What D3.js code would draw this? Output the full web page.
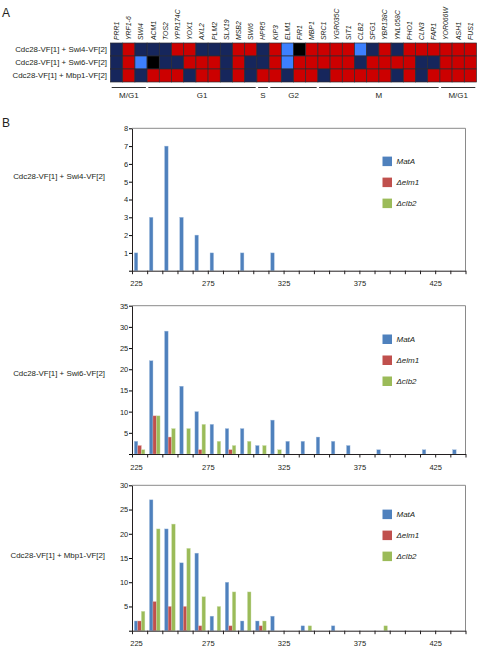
<!DOCTYPE html>
<html><head><meta charset="utf-8">
<script src="https://cdnjs.cloudflare.com/ajax/libs/d3/7.8.5/d3.min.js"></script>
<style>
body{margin:0;background:#fff;}
svg text{font-family:"Liberation Sans",Arial,sans-serif;fill:#231f20;}
</style></head><body>
<svg id="c" width="478" height="650"></svg>
<script>
// ---------- Panel A data ----------
const genes = ["PRR1","YRF1-6","SWI4","ACM1","TOS2","YPR174C","YOX1","AXL2","PLM2","SLX19","MSB2","SWI6","HPR5","KIP3","ELM1","FIR1","MBP1","SRC1","YGR035C","SIT1","CLB2","SFG1","YBR138C","YNL058C","PHO1","CLN3","FAR1","YOR066W","ASH1","FUS1"];
const pairs = ["Cdc28-VF[1] + Swi4-VF[2]","Cdc28-VF[1] + Swi6-VF[2]","Cdc28-VF[1] + Mbp1-VF[2]"];
// N = dark blue, R = red, B = bright blue, K = black
const rowSwi4 = "N R N N N R R N N N R R N R B K R R R R B N R N R R R R R R".split(" ");
const rowSwi6 = "N R B K N N R R R N R N N R B R R R R R N R R R R N N R R R".split(" ");
const rowMbp1 = "N R N R R R N R R N R N R R N R R N R R R R R N R N R R R R".split(" ");
const phaseNames = ["M/G1","G1","S","G2","M","M/G1"];
const phaseFirst = ["PRR1","ACM1","HPR5","KIP3","SRC1","YOR066W"];
const phaseLast  = ["SWI4","SWI6","HPR5","MBP1","FAR1","FUS1"];

// ---------- Panel B data ----------
const bins = [225,235,245,255,265,275,285,295,305,315,325,335,345,355,365,375,385,395,405,415,425,435];
const seriesNames = ["MatA","\u0394elm1","\u0394clb2"];
const swi4MatA  = [1,3,7,3,2,1,0,1,0,1,0,0,0,0,0,0,0,0,0,0,0,0];
const swi4Elm1  = [0,0,0,0,0,0,0,0,0,0,0,0,0,0,0,0,0,0,0,0,0,0];
const swi4Clb2  = [0,0,0,0,0,0,0,0,0,0,0,0,0,0,0,0,0,0,0,0,0,0];
const swi6MatA  = [3,22,29,16,10,7,6,6,2,8,3,3,4,3,2,0,1,0,0,1,0,1];
const swi6Elm1  = [2,9,4,0,1,0,1,0,0,0,0,0,0,0,0,0,0,0,0,0,0,0];
const swi6Clb2  = [1,9,6,6,7,3,2,3,2,1,0,0,0,0,0,0,0,0,0,0,0,0];
const mbp1MatA  = [2,27,21,14,16,3,10,2,2,3,0,1,0,1,0,0,0,0,0,0,0,0];
const mbp1Elm1  = [2,6,5,5,1,0,1,0,1,0,0,0,0,0,0,0,0,0,0,0,0,0];
const mbp1Clb2  = [4,21,22,17,7,5,8,8,2,0,0,1,0,0,0,0,1,0,0,0,0,0];
const yMax = [8,35,30];
const xTickLabels = [225,275,325,375,425];

const svg = d3.select("#c");
const cellColor = {N:"#16265c", R:"#cc0000", B:"#3d80ff", K:"#000000"};

// ---------- Panel A ----------
svg.append("text").attr("x",2).attr("y",17).attr("font-size",12).text("A");
const hx = d3.scaleBand().domain(genes).range([110.5,476.5]);
const hy = d3.scaleBand().domain(pairs).range([43,82]);
const rows = [rowSwi4,rowSwi6,rowMbp1];
const cells = [];
rows.forEach((r,i)=>r.forEach((v,j)=>cells.push({pair:pairs[i],gene:genes[j],v})));
svg.append("g").selectAll("rect").data(cells).join("rect")
  .attr("x",d=>hx(d.gene)).attr("y",d=>hy(d.pair))
  .attr("width",hx.bandwidth()).attr("height",hy.bandwidth())
  .attr("fill",d=>cellColor[d.v]).attr("stroke","#2b2b33").attr("stroke-width",0.7);
svg.append("g").selectAll("text").data(pairs).join("text")
  .attr("x",107).attr("y",d=>hy(d)+hy.bandwidth()/2).attr("dy","0.35em")
  .attr("text-anchor","end").attr("font-size",7.9).text(d=>d);
svg.append("g").selectAll("text").data(genes).join("text")
  .attr("transform",d=>`translate(${hx(d)+hx.bandwidth()/2+2.4},40) rotate(-90)`)
  .attr("font-size",6.9).attr("font-style","italic").text(d=>d);
const phases = phaseNames.map((n,i)=>({n,x0:hx(phaseFirst[i])+1.2,x1:hx(phaseLast[i])+hx.bandwidth()-1.2}));
const pg = svg.append("g");
pg.selectAll("line").data(phases).join("line")
  .attr("x1",d=>d.x0).attr("x2",d=>d.x1).attr("y1",87.5).attr("y2",87.5)
  .attr("stroke","#333").attr("stroke-width",1);
pg.selectAll("text").data(phases).join("text")
  .attr("x",d=>(d.x0+d.x1)/2).attr("y",97.5).attr("text-anchor","middle")
  .attr("font-size",8).text(d=>d.n);

// ---------- Panel B ----------
svg.append("text").attr("x",2).attr("y",127).attr("font-size",12).text("B");
const colors = ["#4f81bd","#c0504d","#9bbb59"];
const strokes = ["#a7c0e0","#e0a8a6","#cde0ae"];
const charts = [
  {label:pairs[0], series:[swi4MatA,swi4Elm1,swi4Clb2], top:128.3, bottom:270.7, step:1, labelY:176, legY:33},
  {label:pairs[1], series:[swi6MatA,swi6Elm1,swi6Clb2], top:305.7, bottom:454, step:5, labelY:373, legY:33.5},
  {label:pairs[2], series:[mbp1MatA,mbp1Elm1,mbp1Clb2], top:485.3, bottom:630.7, step:5, labelY:555, legY:29}
];
const X0 = 132, X1 = 465.5;
charts.forEach((c,ci)=>{
  const g = svg.append("g");
  const xl = d3.scaleLinear().domain([225,445]).range([X0,X1]);
  const xb = d3.scaleBand().domain(bins).range([X0,X1]).paddingInner(0.3).paddingOuter(0.15);
  const xs = d3.scaleBand().domain(seriesNames).range([0,xb.bandwidth()]);
  const y = d3.scaleLinear().domain([0,yMax[ci]]).range([c.bottom,c.top]);
  // frame
  g.append("path").attr("d",`M${X0},${c.top}H${X1}V${c.bottom}`)
    .attr("fill","none").attr("stroke","#8a8a8a").attr("stroke-width",1);
  // bars
  const data = [];
  c.series.forEach((s,si)=>s.forEach((v,bi)=>{ if(v>0) data.push({bin:bins[bi],si,v}); }));
  g.append("g").selectAll("rect").data(data).join("rect")
    .attr("x",d=>xb(d.bin)+xs(seriesNames[d.si])).attr("width",xs.bandwidth())
    .attr("y",d=>y(d.v)).attr("height",d=>y(0)-y(d.v))
    .attr("fill",d=>colors[d.si]).attr("stroke",d=>strokes[d.si]).attr("stroke-width",0.4);
  // y axis
  const ya = g.append("g").attr("transform",`translate(${X0},0)`)
    .call(d3.axisLeft(y).tickValues(d3.range(0,yMax[ci]+0.01,c.step)).tickSize(3).tickSizeOuter(0)
      .tickFormat(d=>d===0?"":d));
  ya.select(".domain").attr("stroke","#231f20");
  ya.selectAll("text").attr("font-size",7.5).attr("font-family","Liberation Sans, Arial, sans-serif").attr("fill","#231f20").attr("dx","0.3em");
  // x axis
  const xa = g.append("g").attr("transform",`translate(0,${c.bottom})`)
    .call(d3.axisBottom(xl).tickValues(d3.range(225,446,10)).tickSize(3.5).tickSizeOuter(0)
      .tickFormat(d=>xTickLabels.includes(d)?d:""));
  xa.select(".domain").attr("stroke","#231f20");
  xa.selectAll("line").attr("stroke","#231f20");
  xa.selectAll("text").attr("font-size",7.5).attr("font-family","Liberation Sans, Arial, sans-serif").attr("fill","#231f20")
    .attr("dy","1.2em").attr("dx",d=>d===225?4:0);
  // chart label
  g.append("text").attr("x",105).attr("y",c.labelY).attr("dy","0.35em")
    .attr("text-anchor","end").attr("font-size",7.9).text(c.label);
  // legend
  const lg = g.append("g").selectAll("g").data(seriesNames).join("g")
    .attr("transform",(d,i)=>`translate(382.5,${c.top+c.legY+i*21})`);
  lg.append("rect").attr("x",0).attr("y",-4.7).attr("width",9.5).attr("height",9.5).attr("fill",(d,i)=>colors[i]);
  lg.append("text").attr("x",14).attr("dy","0.35em").attr("font-size",8).attr("font-style","italic").text(d=>d);
});
</script>
</body></html>
